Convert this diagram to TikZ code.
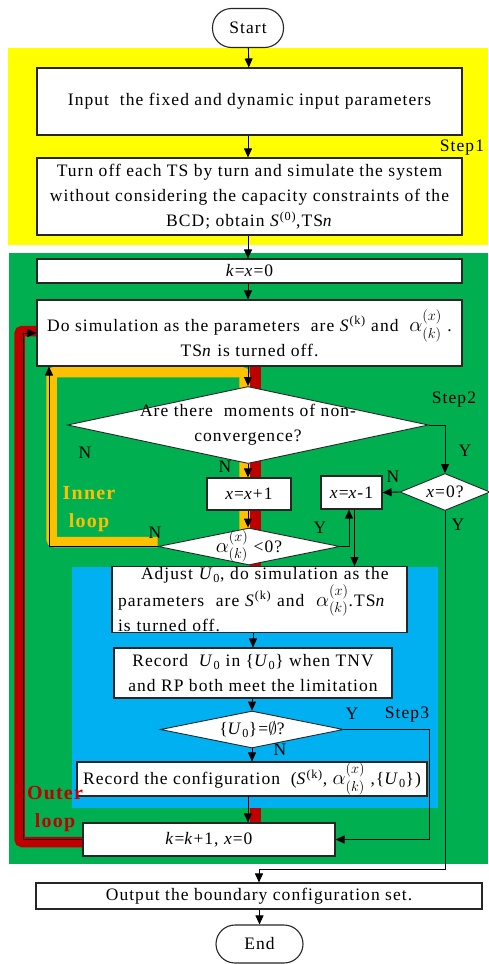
\documentclass[tikz,border=0pt]{standalone}
\usepackage{amsmath,amssymb}
\usepackage{fontspec}
\setmainfont[LetterSpace=6]{Liberation Serif}
\usepackage{tikz}
\usetikzlibrary{shapes.geometric,arrows.meta,backgrounds,calc}
\definecolor{StepYellow}{HTML}{FFFF00}
\definecolor{StepGreen}{HTML}{00B050}
\definecolor{StepBlue}{HTML}{00B0F0}
\definecolor{LoopRed}{HTML}{C00000}
\definecolor{LoopOrange}{HTML}{FFC000}
\newcommand{\alk}{{\fontsize{20}{25}\selectfont$\alpha^{(x)}_{(k)}$}}

\begin{document}
\begin{tikzpicture}[x=1pt, y=-1pt,
        font=\fontsize{17.5}{25}\selectfont,
        box/.style={rectangle, draw=black!85, line width=1.1pt, fill=white,
                    align=center, inner sep=1pt},
        term/.style={box, rounded corners=19pt},
        decision/.style={diamond, draw=black!85, line width=0.9pt, fill=white,
                         inner sep=0pt},
        flow/.style={-{Triangle[length=9pt,width=8pt]}, line width=0.9pt},
        band/.style={line width=10.5pt, #1, rounded corners=3pt},
        lbl/.style={inner sep=0pt},
        looplbl/.style={inner sep=0pt, align=center, font=\fontsize{20}{28}\selectfont\bfseries, #1},
      ]
      \useasboundingbox (0,0) rectangle (488,964);
      \node[term, minimum width=71pt, minimum height=39pt] (start) at (248,28) {Start};
      \node[box, minimum width=425pt, minimum height=67pt] (input) at (249.5,101.5)
        {Input~ the fixed and dynamic input parameters};
      \node[box, minimum width=425pt, minimum height=77pt] (turnoff) at (249.5,196.5)
        {Turn off each TS by turn and simulate the system\\
         without considering the capacity constraints of the\\
         BCD; obtain \textit{S}\textsuperscript{(0)},TS\textit{n}};
      \node[box, minimum width=425pt, minimum height=24pt] (kx0) at (249.5,271)
        {\textit{k}=\textit{x}=0};
      \node[box, minimum width=425pt, minimum height=66pt] (dosim) at (249.5,333)
        {Do simulation as the parameters~ are \textit{S}\textsuperscript{(k)} and~ \alk~.\\
         TS\textit{n} is turned off.};
      \node[decision, minimum width=361pt, minimum height=77pt,
            label={[align=center]center:{Are there~ moments of non-\\convergence?}}] (conv) at (248,425) {};
      \node[box, minimum width=84pt, minimum height=32pt] (xp1) at (249,494)
        {\textit{x}=\textit{x}+1};
      \node[box, minimum width=61pt, minimum height=33pt] (xm1) at (351.5,492.5)
        {\textit{x}=\textit{x}-1};
      \node[decision, minimum width=90pt, minimum height=37pt,
            label={center:{\textit{x}=0?}}] (x0) at (445,492) {};
      \node[decision, minimum width=182pt, minimum height=37pt,
            label={center:{\alk\ <0?}}] (alpha) at (249,546.5) {};
      \node[box, minimum height=65pt, text width=283pt, align=left, inner xsep=6pt] (adjust) at (259.5,599.5)
        {\hspace*{23pt}Adjust \textit{U}\textsubscript{0}, do simulation as the\\
         parameters~ are \textit{S}\textsuperscript{(k)} and~ \alk.TS\textit{n}\\
         is turned off.};
      \node[box, minimum width=278pt, minimum height=50pt] (recu) at (253,673)
        {Record~ \textit{U}\textsubscript{0} in \{\textit{U}\textsubscript{0}\} when TNV\\
         and RP both meet the limitation};
      \node[decision, minimum width=183pt, minimum height=37pt,
            label={center:{\{\textit{U}\textsubscript{0}\}=$\emptyset$?}}] (empty) at (252,729.5) {};
      \node[box, minimum width=350pt, minimum height=34pt] (recconf) at (252,779)
        {Record the configuration~ (\textit{S}\textsuperscript{(k)}, \alk\ ,\{\textit{U}\textsubscript{0}\})};
      \node[box, minimum width=252pt, minimum height=33pt] (kk1) at (209,839.5)
        {\textit{k}=\textit{k}+1, \textit{x}=0};
      \node[box, minimum width=446pt, minimum height=26pt] (output) at (259,896)
        {Output the boundary configuration set.};
      \node[term, minimum width=87pt, minimum height=38pt] (end) at (259.5,944)
        {End};
      \coordinate (innerc) at (49,546.5);
      \coordinate (outerc) at (23,839.5);
      \draw[flow] (start) -- (input);
      \draw[flow] (input.south -| start) -- (turnoff.north -| start);
      \draw[flow] (turnoff.south -| start) -- (kx0.north -| start);
      \draw[flow] (kx0.south -| start) -- (dosim.north -| start);
      \draw[flow] (dosim.south -| conv) -- (conv.north);
      \draw[flow] (conv.south) -- (conv.south |- xp1.north);
      \draw[flow] (xp1.south -| conv) -- (conv |- alpha.north);
      \draw[flow] (conv.east) -| (x0.north);
      \draw[flow] (x0.west) -- (xm1.east);
      \draw[flow] (alpha.east) -| ([xshift=-2.5pt]xm1.south);
      \draw[flow] ([xshift=3pt]xm1.south) -- ([xshift=3pt]xm1.south |- adjust.north);
      \draw[flow] (alpha.west) -- (innerc) -- (innerc |- dosim.south);
      \draw[flow] (adjust.south -| recu) -- (recu.north);
      \draw[flow] (recu.south -| empty) -- (empty.north);
      \draw[flow] (empty.south) -- (empty.south |- recconf.north);
      \draw[flow] (recconf.south -| start) -- (kk1.north -| start);
      \draw[flow] (empty.east) -- ++(85.5,0) |- (kk1.east);
      \draw[flow] (kk1.west) -- (outerc) |- (dosim.west);
      \draw[flow] (x0.south) -- ++(0,358) -| (output.north);
      \draw[flow] (output.south -| end) -- (end.north);
      \node[lbl] (step1) at (462,148) {Step1};
      \node[lbl] (step2) at (454,400) {Step2};
      \node[lbl] (step3) at (407,715) {Step3};
      \node[looplbl=LoopOrange] (innerlbl) at (89,509) {Inner\\loop};
      \node[looplbl=LoopRed] (outerlbl) at (55,809) {Outer\\loop};
      \node[lbl] (nconvl) at (85,453) {N};
      \node[lbl] (nconv) at (225,467) {N};
      \node[lbl] (nalpha) at (155,533) {N};
      \node[lbl] (yalpha) at (320,528) {Y};
      \node[lbl] (yconv) at (465,451) {Y};
      \node[lbl] (nx0) at (393,477) {N};
      \node[lbl] (yx0) at (458,525) {Y};
      \node[lbl] (yempty) at (352,714) {Y};
      \node[lbl] (nempty) at (280,750) {N};
      \begin{pgfonlayer}{background}
        \fill[white] (0,0) rectangle (488,964);
        \fill[StepYellow] (8,48) rectangle (488,245);
        \fill[StepGreen] (9,253) rectangle (488,864);
        \draw[band=LoopOrange] (alpha.west |- 0,542) -- (51.5,542) -- (51.5,372) -- (244.5,372) -- (244.5,530);
        \draw[band=LoopRed] (255.5,366) -- (255.5,825);
        \draw[band=LoopRed] (kk1.west |- 0,842) -- (19.5,842) -- (19.5,331) -- (dosim.west |- 0,331);
        \fill[StepBlue] (72,567) rectangle (438,808);
      \end{pgfonlayer}
    \end{tikzpicture}
\end{document}
